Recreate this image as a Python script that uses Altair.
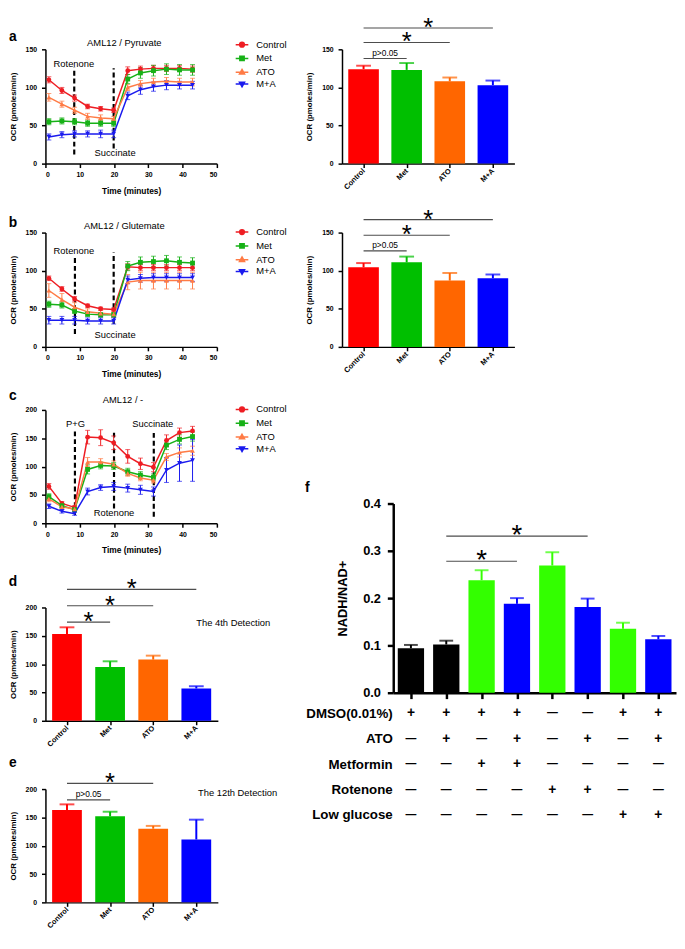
import json
import altair as alt
import pandas as pd

FONT = "Liberation Sans"

# ---------------- shared categories ----------------
groups = ["Control", "Met", "ATO", "M+A"]
line_colors = ["#ee1d23", "#17b117", "#ff7b45", "#1a1aee"]
bar_colors = ["#ff0000", "#00bf00", "#ff6600", "#0000ff"]
marker_shapes = ["circle", "square", "triangle-up", "triangle-down"]
# legend glyphs: a short line with the marker on it
legend_glyphs = [
    "M-1.6,0L1.6,0M-0.6,0A0.6,0.6,0,1,0,0.6,0A0.6,0.6,0,1,0,-0.6,0Z",
    "M-1.6,0L1.6,0M-0.55,-0.55L0.55,-0.55L0.55,0.55L-0.55,0.55Z",
    "M-1.6,0L1.6,0M0,-0.7L0.65,0.45L-0.65,0.45Z",
    "M-1.6,0L1.6,0M0,0.7L0.65,-0.45L-0.65,-0.45Z",
]

time_min = [1.0, 4.8, 8.5, 12.3, 16.1, 19.9, 24.0, 27.7, 31.5, 35.3, 39.1, 42.9]

# ---------------- panel a (AML12 / Pyruvate) ----------------
a_control = [110, 96, 86, 75, 72, 70, 122, 124, 125, 125, 125, 124]
a_met = [55, 56, 55, 53, 53, 53, 111, 119, 122, 124, 123, 123]
a_ato = [87, 78, 70, 62, 60, 59, 100, 105, 107, 108, 107, 107]
a_ma = [35, 38, 39, 39, 39, 39, 89, 97, 101, 103, 103, 103]
a_control_err = [4, 4, 4, 3, 3, 3, 5, 4, 4, 4, 4, 4]
a_met_err = [4, 4, 4, 4, 4, 4, 6, 7, 7, 7, 7, 7]
a_ato_err = [5, 4, 4, 4, 4, 3, 4, 4, 5, 5, 5, 5]
a_ma_err = [4, 4, 4, 4, 5, 5, 5, 6, 6, 6, 5, 5]
a_bar_values = [124, 123, 108, 103]
a_bar_errors = [4.5, 9, 5, 6]
a_sig = [(0, 1, 138, "p>0.05"), (0, 2, 159, "*"), (0, 3, 178, "*")]

# ---------------- panel b (AML12 / Glutemate) ----------------
b_control = [90, 76, 63, 54, 50, 49, 105, 104, 104, 104, 104, 104]
b_met = [56, 55, 47, 43, 42, 42, 106, 111, 112, 113, 111, 110]
b_ato = [74, 62, 52, 46, 44, 43, 85, 87, 87, 87, 87, 87]
b_ma = [35, 35, 35, 34, 34, 34, 88, 90, 91, 91, 91, 91]
b_control_err = [3, 3, 3, 2, 2, 2, 4, 4, 4, 4, 4, 4]
b_met_err = [4, 4, 3, 3, 3, 3, 6, 7, 7, 7, 7, 7]
b_ato_err = [9, 8, 6, 4, 4, 4, 10, 11, 11, 11, 11, 11]
b_ma_err = [5, 5, 5, 4, 4, 4, 5, 5, 5, 5, 5, 5]
b_bar_values = [104.5, 111, 87, 90]
b_bar_errors = [5.5, 7.5, 10, 5]
b_sig = [(0, 1, 126, "p>0.05"), (0, 2, 146.5, "*"), (0, 3, 167, "*")]

# ---------------- panel c (AML12 / -) ----------------
c_control = [65, 35, 28, 152, 151, 142, 118, 105, 99, 146, 160, 163]
c_met = [47, 31, 24, 95, 102, 101, 91, 85, 81, 138, 148, 153]
c_ato = [43, 29, 25, 108, 108, 104, 88, 80, 76, 117, 125, 128]
c_ma = [30, 21, 17, 56, 63, 65, 62, 59, 56, 94, 106, 111]
c_control_err = [5, 3, 3, 12, 14, 12, 12, 10, 8, 10, 8, 8]
c_met_err = [5, 4, 4, 8, 6, 6, 6, 6, 6, 8, 8, 8]
c_ato_err = [5, 4, 3, 8, 6, 6, 5, 5, 5, 6, 8, 8]
c_ma_err = [4, 3, 3, 6, 5, 7, 7, 8, 8, 22, 32, 37]

# ---------------- panels d, e ----------------
d_bar_values = [153, 95, 108, 57]
d_bar_errors = [12, 10, 7, 4]
d_sig = [(0, 1, 174, "*"), (0, 2, 203, "*"), (0, 3, 232, "*")]
e_bar_values = [163, 152, 130, 111]
e_bar_errors = [10, 8, 5, 35]
e_sig = [(0, 1, 181, "p>0.05"), (0, 2, 210, "*")]

# ---------------- panel f ----------------
f_values = [0.094, 0.102, 0.238, 0.188, 0.269, 0.181, 0.135, 0.113]
f_errors = [0.007, 0.008, 0.021, 0.012, 0.028, 0.018, 0.013, 0.007]
f_colors = ["#000000", "#000000", "#33ff00", "#0000ff", "#33ff00", "#0000ff", "#33ff00", "#0000ff"]
f_sig = [(1, 5, 0.331, "*"), (1, 3, 0.278, "*")]
table_rows = ["DMSO(0.01%)", "ATO", "Metformin", "Rotenone", "Low glucose"]
table_signs = [
    ["+", "+", "+", "+", "—", "—", "+", "+"],
    ["—", "+", "—", "+", "—", "+", "—", "+"],
    ["—", "—", "+", "+", "—", "—", "—", "—"],
    ["—", "—", "—", "—", "+", "+", "—", "—"],
    ["—", "—", "—", "—", "—", "—", "+", "+"],
]


def axis_style(**kw):
    base = dict(grid=False, domainColor="black", domainWidth=1.5, tickColor="black",
                tickWidth=1.5, tickSize=4, labelFont=FONT, labelFontSize=7,
                labelFontWeight="bold", labelColor="black", labelPadding=5,
                titleFont=FONT, titleFontSize=8, titleFontWeight="bold", titleColor="black")
    base.update(kw)
    return alt.Axis(**base)


def text_layer(rows, X, Y, **mark):
    df = pd.DataFrame(rows, columns=["x", "y", "label"])
    return alt.Chart(df).mark_text(font=FONT, color="black", **mark).encode(
        x=X("x:Q"), y=Y("y:Q"), text="label:N")


def line_panel(series, errors, ymax, yticks, letter, title, dashes, notes, legend_y, height):
    rows = []
    for g, vals, errs in zip(groups, series, errors):
        for t, v, e in zip(time_min, vals, errs):
            rows.append({"t": t, "ocr": v, "lo": v - e, "hi": v + e, "group": g})
    df = pd.DataFrame(rows)
    xs = alt.Scale(domain=[0, 50], nice=False)
    ys = alt.Scale(domain=[0, ymax], nice=False)
    xax = axis_style(values=[0, 10, 20, 30, 40, 50], title="Time (minutes)",
                     titlePadding=9, labelPadding=3, titleFontSize=8.5)
    yax = axis_style(values=yticks, title="OCR (pmoles/min)", titlePadding=8)

    def X(f):
        return alt.X(f, scale=xs, axis=xax)

    def Y(f):
        return alt.Y(f, scale=ys, axis=yax)

    cscale = alt.Scale(domain=groups, range=line_colors)
    col = alt.Color("group:N", scale=cscale, legend=None)
    shp = alt.Shape("group:N", scale=alt.Scale(domain=groups, range=marker_shapes), legend=None)
    base = alt.Chart(df)
    err = base.mark_rule(strokeWidth=1).encode(x=X("t:Q"), y=Y("lo:Q"), y2="hi:Q", color=col)
    caps = base.transform_fold(["lo", "hi"], as_=["end", "cap"]).mark_tick(
        orient="horizontal", size=5, thickness=1).encode(x=X("t:Q"), y=Y("cap:Q"), color=col)
    lines = base.mark_line(strokeWidth=1.5).encode(x=X("t:Q"), y=Y("ocr:Q"), color=col)
    pts = base.mark_point(filled=True, size=24, opacity=1).encode(
        x=X("t:Q"), y=Y("ocr:Q"), color=col, shape=shp)

    # legend-only layer (no marks drawn), with line-and-marker glyphs
    leg = alt.Legend(orient="none", legendX=194.5, legendY=legend_y, title=None,
                     labelFont=FONT, labelFontSize=9.5, labelColor="black",
                     symbolSize=64, symbolStrokeWidth=1.5, rowPadding=2, labelOffset=9.5,
                     padding=0)
    legend_layer = base.transform_filter("false").mark_point(
        filled=True, size=64, strokeWidth=1.5, opacity=1).encode(
        x=X("t:Q"), y=Y("ocr:Q"),
        color=alt.Color("group:N", scale=cscale, legend=leg),
        stroke=alt.Stroke("group:N", scale=cscale, legend=leg),
        shape=alt.Shape("group:N", scale=alt.Scale(domain=groups, range=legend_glyphs), legend=leg))

    ddf = pd.DataFrame(dashes, columns=["t", "lo", "hi"])
    dash = alt.Chart(ddf).mark_rule(color="black", strokeWidth=2.2, strokeDash=[5, 3]).encode(
        x=X("t:Q"), y=Y("lo:Q"), y2="hi:Q")
    note = text_layer(notes, X, Y, fontSize=9.5, baseline="middle")
    let = text_layer([letter], X, Y, fontSize=14, fontWeight="bold", baseline="middle")
    tit = text_layer([title], X, Y, fontSize=9.5, baseline="middle")
    return alt.layer(dash, err, caps, lines, pts, note, let, tit, legend_layer).resolve_scale(
        color="independent", shape="independent", stroke="independent"
    ).properties(width=174, height=height)


def sig_layers(sigs, X, Y, star_size):
    sdf = pd.DataFrame(sigs, columns=["i0", "i1", "y", "label"])
    base = alt.Chart(sdf)
    lines = base.mark_rule(color="#4d4d4d", strokeWidth=1.2).encode(x=X("i0:Q"), x2="i1:Q", y=Y("y:Q"))
    stars = base.transform_filter("datum.label == '*'").transform_calculate(
        mid="(datum.i0 + datum.i1) / 2").mark_text(
        font=FONT, fontSize=star_size, baseline="middle", color="black").encode(
        x=X("mid:Q"), y=Y("y:Q"), text="label:N")
    ptxt = base.transform_filter("datum.label != '*'").transform_calculate(
        mid="(datum.i0 + datum.i1) / 2").mark_text(
        font=FONT, fontSize=8.5, baseline="alphabetic", dy=-2.5, color="black").encode(
        x=X("mid:Q"), y=Y("y:Q"), text="label:N")
    return [lines, stars, ptxt]


def bar_panel(vals, errs, sigs, ymax, yticks, height, half, letter=None, note=None):
    n = len(groups)
    df = pd.DataFrame({"i": list(range(n)), "group": groups, "v": vals, "e": errs, "c": bar_colors})
    xs = alt.Scale(domain=[-0.5, n - 0.5], nice=False, zero=False)
    ys = alt.Scale(domain=[0, ymax], nice=False)
    xax = axis_style(values=list(range(n)), labelExpr=json.dumps(groups) + "[datum.value]",
                     labelAngle=-45, labelAlign="right", labelBaseline="middle",
                     labelFontSize=7.5, labelPadding=2, title=None)
    yax = axis_style(values=yticks, title="OCR (pmoles/min)", titlePadding=8)

    def X(f):
        return alt.X(f, scale=xs, axis=xax)

    def Y(f):
        return alt.Y(f, scale=ys, axis=yax)

    fill = alt.Color("c:N", scale=None)
    base = alt.Chart(df)
    bars = base.transform_calculate(x0=f"datum.i - {half}", x1=f"datum.i + {half}").mark_bar().encode(
        x=X("x0:Q"), x2="x1:Q", y=Y("v:Q"), y2=alt.datum(0), color=fill)
    err = base.transform_calculate(top="datum.v + datum.e").mark_rule(strokeWidth=2).encode(
        x=X("i:Q"), y=Y("v:Q"), y2="top:Q", color=fill)
    cap = base.transform_calculate(top="datum.v + datum.e").mark_tick(
        orient="horizontal", size=15, thickness=2).encode(x=X("i:Q"), y=Y("top:Q"), color=fill)
    layers = [err, cap, bars] + sig_layers(sigs, X, Y, 26)
    if letter is not None:
        layers.append(text_layer([letter], X, Y, fontSize=14, fontWeight="bold", baseline="middle"))
    if note is not None:
        layers.append(text_layer([note], X, Y, fontSize=9.5, baseline="middle", align="left"))
    return alt.layer(*layers).properties(width=175, height=height)


# ---------------- build panels ----------------
a_line = line_panel([a_control, a_met, a_ato, a_ma],
                    [a_control_err, a_met_err, a_ato_err, a_ma_err],
                    150, [0, 50, 100, 150], (-9.5, 165.5, "a"), (23, 158, "AML12 / Pyruvate"),
                    [(8.4, 12, 126), (19.9, 20, 125)],
                    [(8.3, 131, "Rotenone"), (20.3, 14, "Succinate")], -9.75, 116)
b_line = line_panel([b_control, b_met, b_ato, b_ma],
                    [b_control_err, b_met_err, b_ato_err, b_ma_err],
                    150, [0, 50, 100, 150], (-9.5, 162.5, "b"), (23, 158.6, "AML12 / Glutemate"),
                    [(8.6, 17, 118), (19.9, 30, 124)],
                    [(8.3, 125.6, "Rotenone"), (20.3, 15, "Succinate")], -5.5, 116)
c_line = line_panel([c_control, c_met, c_ato, c_ma],
                    [c_control_err, c_met_err, c_ato_err, c_ma_err],
                    200, [0, 50, 100, 150, 200], (-9.5, 224.3, "c"), (22.6, 217.4, "AML12 / -"),
                    [(8.6, 14.5, 162), (20.0, 26, 162), (31.6, 11.6, 162)],
                    [(8.8, 175.6, "P+G"), (20, 17.4, "Rotenone"), (31.3, 175.6, "Succinate")], -5.5, 115)

a_bar = bar_panel(a_bar_values, a_bar_errors, a_sig, 150, [0, 50, 100, 150], 116, 0.355)
b_bar = bar_panel(b_bar_values, b_bar_errors, b_sig, 150, [0, 50, 100, 150], 116, 0.355)
d_bar = bar_panel(d_bar_values, d_bar_errors, d_sig, 200, [0, 50, 100, 150, 200], 115, 0.345,
                  letter=(-1.254, 245, "d"), note=(3, 173, "The 4th Detection"))
e_bar = bar_panel(e_bar_values, e_bar_errors, e_sig, 200, [0, 50, 100, 150, 200], 115, 0.345,
                  letter=(-1.254, 246.4, "e"), note=(3.04, 193, "The 12th Detection"))

# ---------------- panel f ----------------
nf = len(f_values)
F_W = 287
fx = alt.Scale(domain=[-0.5, nf - 0.5], nice=False, zero=False)
fy = alt.Scale(domain=[0, 0.4], nice=False)
f_xax = axis_style(values=list(range(nf)), labels=False, title=None, domainWidth=2.5,
                   tickWidth=2.5, tickSize=6)
f_yax = axis_style(values=[0, 0.1, 0.2, 0.3, 0.4], format=".1f", title="NADH/NAD+",
                   domainWidth=2.5, tickWidth=2.5, tickSize=6, labelFontSize=13,
                   labelPadding=7, titleFontSize=13, titlePadding=13)


def FX(f):
    return alt.X(f, scale=fx, axis=f_xax)


def FY(f):
    return alt.Y(f, scale=fy, axis=f_yax)


fdf = pd.DataFrame({"i": list(range(nf)), "v": f_values, "e": f_errors, "c": f_colors})
ffill = alt.Color("c:N", scale=None)
fbase = alt.Chart(fdf)
f_bars_l = fbase.transform_calculate(x0="datum.i - 0.372", x1="datum.i + 0.372").mark_bar().encode(
    x=FX("x0:Q"), x2="x1:Q", y=FY("v:Q"), y2=alt.datum(0), color=ffill)
f_err = fbase.transform_calculate(top="datum.v + datum.e").mark_rule(strokeWidth=2).encode(
    x=FX("i:Q"), y=FY("v:Q"), y2="top:Q", color=ffill)
f_cap = fbase.transform_calculate(top="datum.v + datum.e").mark_tick(
    orient="horizontal", size=14, thickness=2).encode(x=FX("i:Q"), y=FY("top:Q"), color=ffill)
f_layers = [f_err, f_cap, f_bars_l] + sig_layers(f_sig, FX, FY, 28)
f_layers.append(text_layer([(-2.93, 0.433, "f")], FX, FY, fontSize=14, fontWeight="bold",
                           baseline="middle"))
f_bars = alt.layer(*f_layers).properties(width=F_W, height=192)

trows = []
for r, signs in zip(table_rows, table_signs):
    for i, s in enumerate(signs):
        trows.append({"row": r, "i": i, "s": s})
tdf = pd.DataFrame(trows)
f_table = alt.Chart(tdf).mark_text(font=FONT, fontWeight="bold", color="black",
                                   baseline="middle").encode(
    x=alt.X("i:Q", scale=fx, axis=None),
    y=alt.Y("row:N", scale=alt.Scale(domain=table_rows),
            axis=axis_style(domain=False, ticks=False, labelFontSize=13.5, labelPadding=1,
                            title=None)),
    text="s:N",
    size=alt.Size("s:N", scale=alt.Scale(domain=["+", "—"], range=[14, 11]), legend=None),
).properties(width=F_W, height=129)

spacer = alt.Chart(pd.DataFrame({"v": [0, 1]})).mark_rule(color="white", strokeWidth=0.5).encode(
    y=alt.Y("v:Q", axis=None, scale=alt.Scale(domain=[0, 1], nice=False))
).properties(width=F_W, height=71)

RES = dict(color="independent", shape="independent", stroke="independent")

f_col = alt.vconcat(spacer, f_bars, f_table, spacing=0, bounds="full").resolve_scale(**RES)
de = alt.vconcat(d_bar, e_bar, spacing=69.3, bounds="flush").resolve_scale(**RES)
left3 = alt.vconcat(c_line, de, spacing=20.5, bounds="full").resolve_scale(**RES)
row3 = alt.hconcat(left3, f_col, spacing=17).resolve_scale(**RES)
row1 = alt.hconcat(a_line, a_bar, spacing=127, bounds="flush").resolve_scale(**RES)
row2 = alt.hconcat(b_line, b_bar, spacing=127, bounds="flush").resolve_scale(**RES)

chart = alt.vconcat(row1, row2, row3, spacing=11).resolve_scale(**RES).properties(
    padding=0
).configure(font=FONT, background="white").configure_view(stroke=None)

chart.save("out.html", embed_options={"renderer": "svg", "actions": False})
